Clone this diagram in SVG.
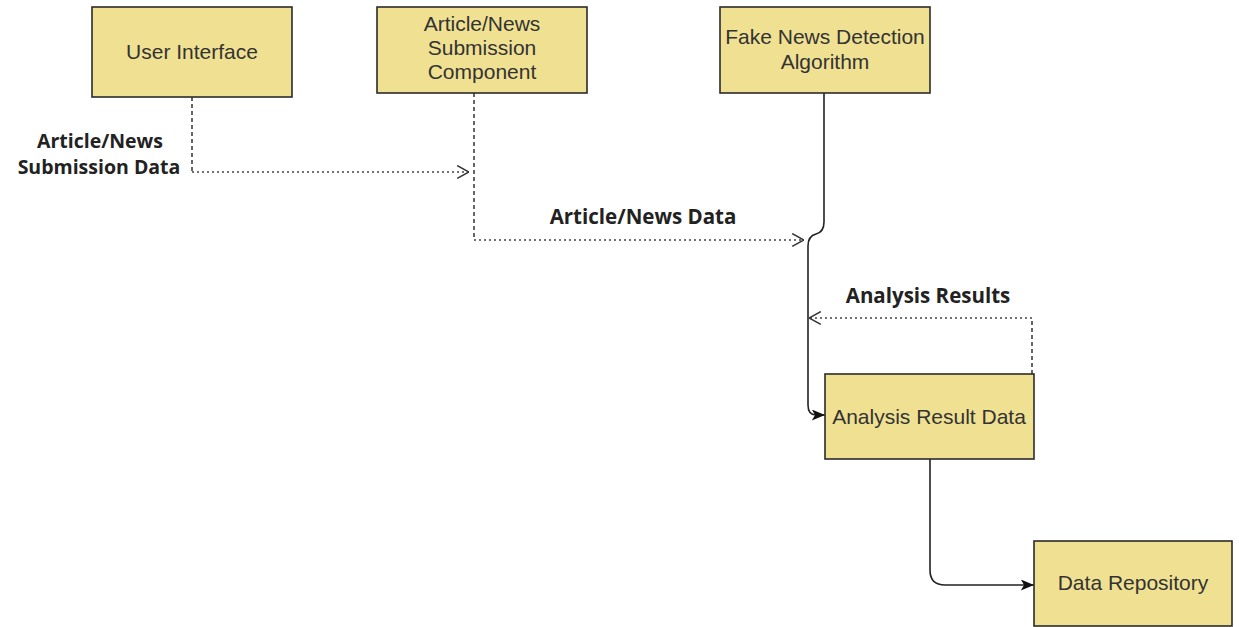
<svg xmlns="http://www.w3.org/2000/svg" width="1239" height="627" viewBox="0 0 1239 627">
  <defs>
    <style>
      .box { fill: #F0E192; stroke: #2b2b2b; stroke-width: 1.6; }
      .btxt { font-family: "Liberation Sans", Arial, sans-serif; font-size: 21px; fill: #333333; text-anchor: middle; }
      .lbl { font-family: "Open Sans", "DejaVu Sans", sans-serif; font-weight: bold; font-size: 20.5px; fill: #222222; text-anchor: middle; }
      .lbl-sm { font-size: 19.5px; }
      .solid { fill: none; stroke: #222222; stroke-width: 1.6; }
      .dash { fill: none; stroke: #333333; stroke-width: 1.5; stroke-dasharray: 4 3; }
      .dot { fill: none; stroke: #444444; stroke-width: 1.3; stroke-dasharray: 2 3; }
    </style>
    <marker id="open" viewBox="0 0 12 14" refX="12" refY="7" markerWidth="13" markerHeight="15" markerUnits="userSpaceOnUse" orient="auto">
      <path d="M1 1 L12 7 L1 13" fill="none" stroke="#333333" stroke-width="1.4"/>
    </marker>
    <marker id="filled" viewBox="0 0 12 10" refX="12" refY="5" markerWidth="14" markerHeight="11" markerUnits="userSpaceOnUse" orient="auto">
      <path d="M0 0 L12 5 L0 10 L3 5 Z" fill="#111111"/>
    </marker>
  </defs>

  <rect width="1239" height="627" fill="#ffffff"/>

  <!-- connectors -->
  <g id="connectors">
    <!-- User Interface to submission component -->
    <path class="dash" d="M192 97 V172"/>
    <path class="dot" d="M192 172 H469" marker-end="url(#open)"/>
    <!-- submission component to detection algorithm -->
    <path class="dash" d="M474 93 V240"/>
    <path class="dot" d="M474 240 H804" marker-end="url(#open)"/>
    <!-- detection algorithm to analysis result data -->
    <path class="solid" d="M824 93 V222 Q824 232 816 234 Q808 236 808 246 V405 Q808 415 816 415 H825" marker-end="url(#filled)"/>
    <!-- analysis results returned -->
    <path class="dash" d="M1032 374 V318"/>
    <path class="dot" d="M1032 318 H809" marker-end="url(#open)"/>
    <!-- analysis result data to repository -->
    <path class="solid" d="M930 459 V570 Q930 585 945 585 H1034" marker-end="url(#filled)"/>

    <text class="lbl lbl-sm"><tspan x="100" y="148">Article/News</tspan><tspan x="99" y="174">Submission Data</tspan></text>
    <text class="lbl" x="643" y="224">Article/News Data</text>
    <text class="lbl" x="928" y="303">Analysis Results</text>
  </g>

  <g id="user-interface">
    <rect class="box" x="92" y="7" width="200" height="90"/>
    <text class="btxt" x="192" y="59">User Interface</text>
  </g>

  <g id="submission-component">
    <rect class="box" x="377" y="7" width="210" height="86"/>
    <text class="btxt"><tspan x="482" y="31">Article/News</tspan><tspan x="482" y="55">Submission</tspan><tspan x="482" y="79">Component</tspan></text>
  </g>

  <g id="detection-algorithm">
    <rect class="box" x="720" y="7" width="210" height="86"/>
    <text class="btxt"><tspan x="825" y="44">Fake News Detection</tspan><tspan x="825" y="69">Algorithm</tspan></text>
  </g>

  <g id="analysis-result-data">
    <rect class="box" x="825" y="374" width="209" height="85"/>
    <text class="btxt" x="929" y="424">Analysis Result Data</text>
  </g>

  <g id="data-repository">
    <rect class="box" x="1034" y="541" width="198" height="85"/>
    <text class="btxt" x="1133" y="590">Data Repository</text>
  </g>
</svg>
